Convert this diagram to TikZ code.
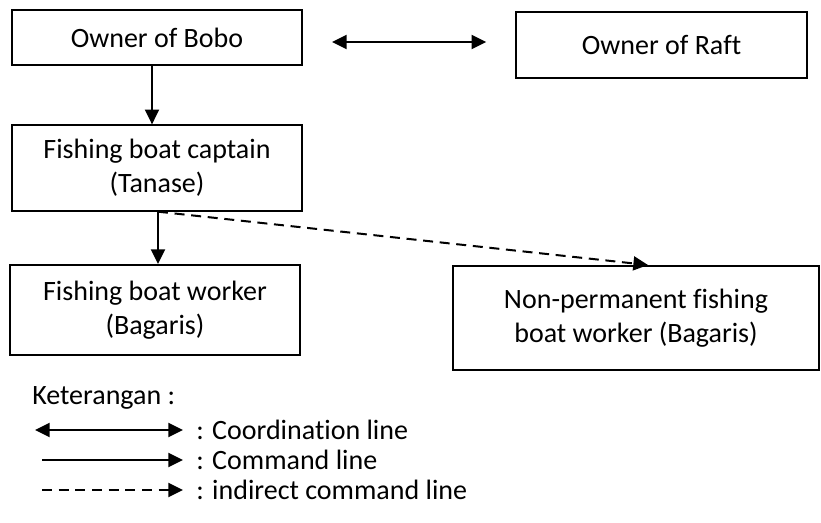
\documentclass[tikz,border=0pt]{standalone}
\usepackage{fontspec}
\setmainfont[Ligatures=NoCommon]{Carlito}
\usetikzlibrary{arrows.meta,calc,positioning}
\tikzset{
  unit/.style = {draw, line width=1.5pt, align=center, inner sep=0pt},
  cmdline/.style = {line width=1.5pt, -{Triangle[length=11pt,width=10.5pt]}},
  coordline/.style = {line width=1.5pt, {Triangle[length=11pt,width=10.5pt]}-{Triangle[length=11pt,width=10.5pt]}},
  indirect/.style = {line width=1.5pt, dash pattern=on 7.5pt off 5pt, -{Triangle[length=11pt,width=10.5pt]}},
  note/.style = {anchor=west, inner sep=0pt}
}

\begin{document}
\begin{tikzpicture}[x=0.75pt, y=-0.75pt, font=\fontsize{21}{25.5}\selectfont]
    \useasboundingbox (0,0) rectangle (821,522);

    % draw the units
    \node[unit, minimum width=217.5pt, minimum height=41pt] (bobo) at (157,37.5) {Owner of Bobo};
    \node[unit, minimum width=218pt, minimum height=49.5pt] (raft) at (661.5,45) {Owner of Raft};
    \node[unit, minimum width=217.5pt, minimum height=64pt] (captain) at (157,168) {Fishing boat captain\\(Tanase)};
    \node[unit, minimum width=217.5pt, minimum height=67.5pt] (worker) at (155,310) {Fishing boat worker\\(Bagaris)};
    \node[unit, minimum width=275pt, minimum height=78pt] (nonperm) at (636,318) {Non-permanent fishing\\boat worker (Bagaris)};

    % draw the lines between units
    \draw[coordline] ($(bobo.east)+(29,4.5)$) -- ($(raft.west)+(-29,-3)$);
    \draw[cmdline] ($(bobo.south)+(-5,0)$) -- ($(captain.north)+(-5,0)$);
    \draw[cmdline] ($(captain.south)+(1,0)$) -- ($(worker.north)+(3,0)$);
    \draw[indirect] ($(captain.south)+(1,0)$) -- ($(nonperm.north)+(12,0)$);

    % legend
    \node[note] (legend) at (32,398) {Keterangan~:};
    \coordinate (c1) at (35,430);  \coordinate (c2) at (183,430);
    \coordinate (m1) at (42,460);  \coordinate (m2) at (183,460);
    \coordinate (d1) at (42,490);  \coordinate (d2) at (183,490);
    \draw[coordline] (c1) -- (c2);
    \draw[cmdline] (m1) -- (m2);
    \draw[indirect] (d1) -- (d2);
    \node[note] (coordtext) at (196,430) {: Coordination line};
    \node[note] (cmdtext) at (196,460) {: Command line};
    \node[note] (indtext) at (196,490) {: indirect command line};
\end{tikzpicture}
\end{document}
